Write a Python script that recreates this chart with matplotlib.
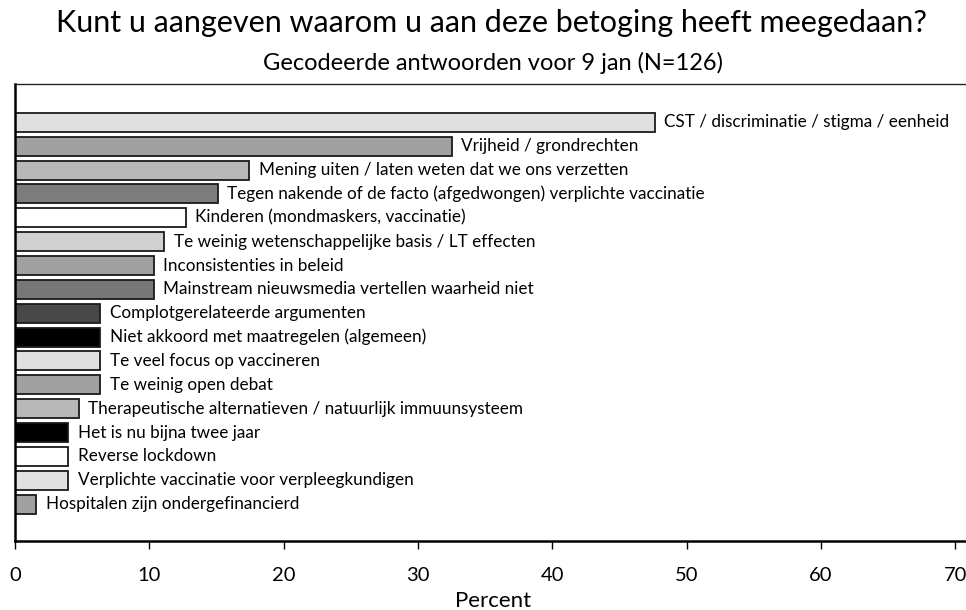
import matplotlib
matplotlib.use('Agg')
import matplotlib.pyplot as plt
import numpy as np

plt.rcParams['font.family'] = ['Lato', 'DejaVu Sans']

labels = [
    'CST / discriminatie / stigma / eenheid',
    'Vrijheid / grondrechten',
    'Mening uiten / laten weten dat we ons verzetten',
    'Tegen nakende of de facto (afgedwongen) verplichte vaccinatie',
    'Kinderen (mondmaskers, vaccinatie)',
    'Te weinig wetenschappelijke basis / LT effecten',
    'Inconsistenties in beleid',
    'Mainstream nieuwsmedia vertellen waarheid niet',
    'Complotgerelateerde argumenten',
    'Niet akkoord met maatregelen (algemeen)',
    'Te veel focus op vaccineren',
    'Te weinig open debat',
    'Therapeutische alternatieven / natuurlijk immuunsysteem',
    'Het is nu bijna twee jaar',
    'Reverse lockdown',
    'Verplichte vaccinatie voor verpleegkundigen',
    'Hospitalen zijn ondergefinancierd',
]
counts = [60, 41, 22, 19, 16, 14, 13, 13, 8, 8, 8, 8, 6, 5, 5, 5, 2]
n_total = 126
percent = [c / n_total * 100 for c in counts]

colors = ['#e0e0e0', '#a0a0a0', '#b8b8b8', '#7c7c7c', '#ffffff', '#d0d0d0',
          '#a0a0a0', '#777777', '#484848', '#000000', '#e0e0e0', '#a0a0a0',
          '#b8b8b8', '#000000', '#ffffff', '#e0e0e0', '#a0a0a0']

fig = plt.figure(figsize=(9.66, 6.1), dpi=100)
ax = fig.add_axes([0.0155, 0.113, 0.99, 0.749])

y = np.arange(len(labels))
ax.barh(y, percent, height=0.8, color=colors, edgecolor='#1a1a1a', linewidth=1.3)
for yi, p, lab in zip(y, percent, labels):
    ax.text(p + 0.7, yi, lab, va='center', ha='left', fontsize=12.3)

ax.set_ylim(len(labels) - 1 + 1.55, -1.6)
ax.set_xlim(0, 71.2)
ax.set_yticks([])
ax.set_xticks(np.arange(0, 71, 10))
ax.tick_params(axis='x', labelsize=14.5, length=6, width=1, pad=13)
ax.set_xlabel('Percent', fontsize=16, labelpad=5)

ax.spines['right'].set_visible(False)
ax.spines['left'].set_linewidth(1.8)
ax.spines['bottom'].set_linewidth(1.8)
ax.spines['top'].set_linewidth(1.0)
ax.spines['top'].set_color('#222222')

fig.text(0.509, 0.962, 'Kunt u aangeven waarom u aan deze betoging heeft meegedaan?',
         ha='center', va='center', fontsize=22)
fig.text(0.51, 0.897, 'Gecodeerde antwoorden voor 9 jan (N=126)',
         ha='center', va='center', fontsize=17)

fig.savefig('out.png', dpi=100)
